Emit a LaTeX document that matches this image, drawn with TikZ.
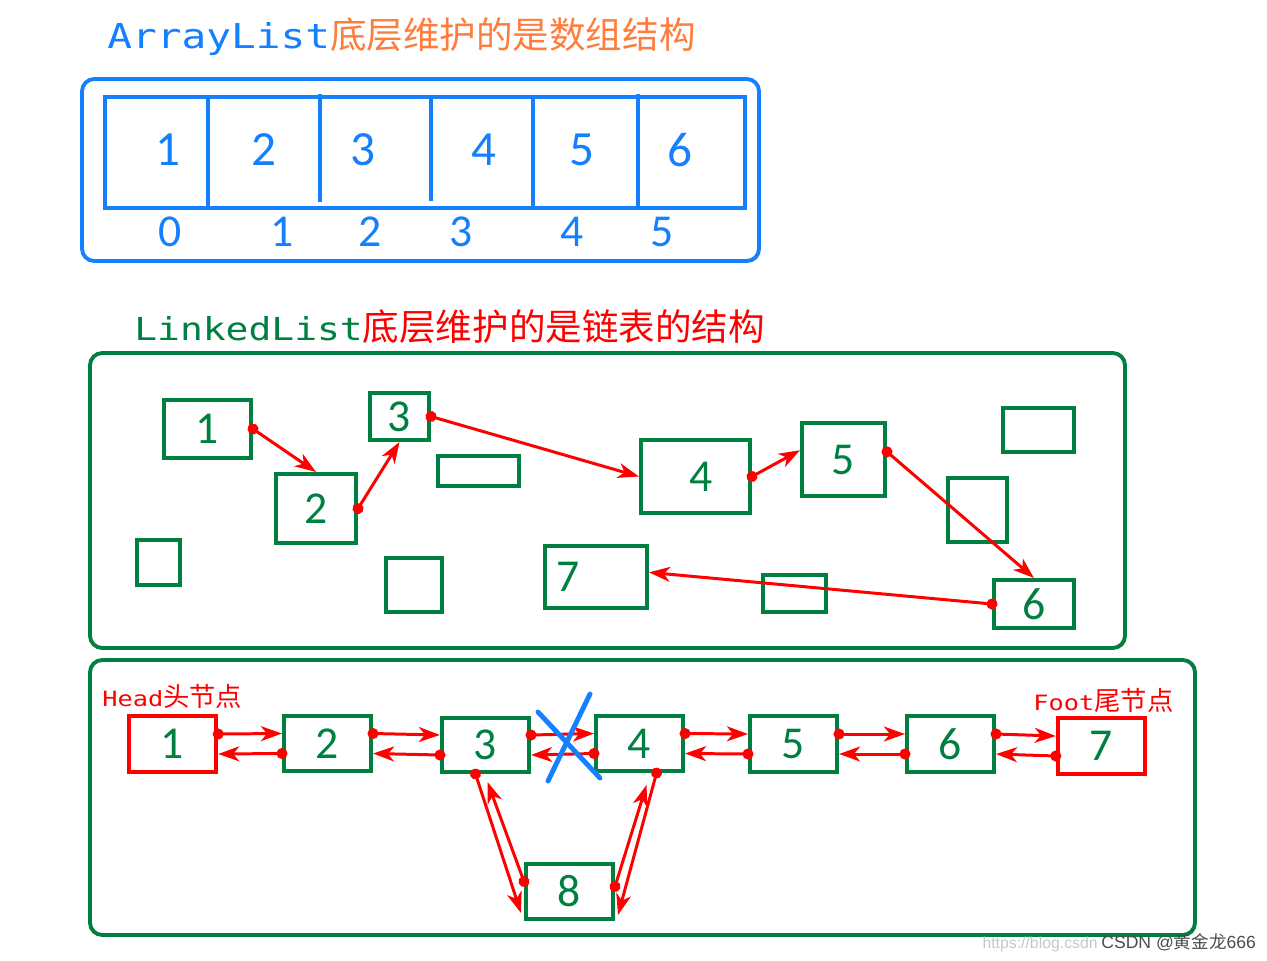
\documentclass[tikz,border=0pt]{standalone}
\usepackage{fontspec}
\setmainfont{Carlito}
\newfontfamily\codefont[FakeStretch=1.2]{DejaVu Sans Mono}
\newfontfamily\cjk{Noto Sans CJK SC}
\newfontfamily\wmfont{Liberation Sans}
\usetikzlibrary{arrows.meta,fit,calc,shadows}
\definecolor{arrblue}{RGB}{20,128,255}
\definecolor{arrorange}{RGB}{255,125,60}
\definecolor{lgreen}{RGB}{0,128,64}
\definecolor{lred}{RGB}{255,0,0}

\begin{document}
\begin{tikzpicture}[x=0.02cm,y=-0.02cm,
		panel/.style={line width=2.2pt, rounded corners=7pt, fill=white, drop shadow={shadow xshift=1pt, shadow yshift=-1pt, opacity=.25}},
		cell/.style={draw=arrblue, line width=2.2pt},
		gbox/.style={draw=lgreen, line width=2.3pt, fill=white, inner sep=0pt, drop shadow={shadow xshift=1pt, shadow yshift=-1pt, opacity=.25}},
		rbox/.style={gbox, draw=lred, line width=2.5pt},
		num/.style={text=lgreen, font=\fontsize{26}{26}\selectfont},
		bnum/.style={text=arrblue, font=\fontsize{28}{28}\selectfont},
		inum/.style={text=arrblue, font=\fontsize{26}{26}\selectfont},
		link/.style={draw=lred, line width=1.7pt, arrows={Circle[length=6.2pt]-Stealth[length=12pt,width=8.5pt,inset=3.5pt]}, shorten <=-3.1pt},
		xmark/.style={draw=arrblue, line width=2.8pt, line cap=round}]
		
		\path[use as bounding box, fill=white] (0,0) rectangle (1267,960);
		
		\node[anchor=base west, inner sep=0pt] (arrtitle) at (107,48) {\fontsize{19.5}{20}\codefont\textcolor{arrblue}{ArrayList}\fontsize{20.8}{21}\cjk\textcolor{arrorange}{底层维护的是数组结构}};
		
		\draw[panel, draw=arrblue] (82,79) rectangle (759,261);
		\draw[cell] (105,97) rectangle (745,208);
		\draw[cell] (208,97) -- (208,208);
		\draw[cell] (320,94) -- (320,202);
		\draw[cell] (431,97) -- (431,201);
		\draw[cell] (533,97) -- (533,208);
		\draw[cell] (638,94) -- (638,208);
		
		\node[bnum] (c1) at (168,150) {1};
		\node[bnum] (c2) at (264,150) {2};
		\node[bnum] (c3) at (363,150) {3};
		\node[bnum] (c4) at (484,150) {4};
		\node[bnum] (c5) at (582,150) {5};
		\node[bnum] (c6) at (680,150) {6};
		
		\node[inum] (i0) at (170,232) {0};
		\node[inum] (i1) at (282,232) {1};
		\node[inum] (i2) at (370,232) {2};
		\node[inum] (i3) at (461,232) {3};
		\node[inum] (i4) at (572,232) {4};
		\node[inum] (i5) at (662,232) {5};
		
		
		\node[anchor=base west, inner sep=0pt] (lnktitle) at (134,340) {\fontsize{18}{19}\codefont\textcolor{lgreen}{LinkedList}\fontsize{20.8}{21}\cjk\textcolor{lred}{底层维护的是链表的结构}};
		
		\draw[panel, draw=lgreen] (90,353) rectangle (1125,648);
		
		\node[gbox, fit={(164,400) (251,458)}, label={[num]center:1}] (m1) {};
		\node[gbox, fit={(276,474) (356,543)}, label={[num]center:2}] (m2) {};
		\node[gbox, fit={(370,393) (429,440)}, label={[num]center:3}] (m3) {};
		\node[gbox, fit={(641,440) (750,513)}, label={[num,xshift=3pt]center:4}] (m4) {};
		\node[gbox, fit={(802,423) (885,496)}, label={[num]center:5}] (m5) {};
		\node[gbox, fit={(994,580) (1074,628)}, label={[num]center:6}] (m6) {};
		\node[gbox, fit={(545,546) (647,608)}, label={[num,anchor=west,xshift=4pt]west:7}] (m7) {};
		
		\node[gbox, fit={(438,456) (519,486)}] (e1) {};
		\node[gbox, fit={(1003,408) (1074,452)}] (e2) {};
		\node[gbox, fit={(948,478) (1007,542)}] (e3) {};
		\node[gbox, fit={(763,575) (826,612)}] (e4) {};
		\node[gbox, fit={(137,540) (180,585)}] (e5) {};
		\node[gbox, fit={(386,558) (442,612)}] (e6) {};
		
		\draw[link] (m1.east) -- (m2.north);
		\draw[link] (m2.east) -- (m3.south);
		\draw[link] (m3.east) -- (m4.west);
		\draw[link] (m4.east) -- (m5.168);
		\draw[link] (m5.10) -- (m6.north);
		\draw[link] (m6.west) -- (m7.5);
		
		
		\draw[panel, draw=lgreen] (90,660) rectangle (1195,935);
		
		\node[anchor=base west, inner sep=0pt, text=lred] (head) at (102,706) {\fontsize{12}{12}\codefont Head\fontsize{15}{15}\cjk 头节点};
		\node[anchor=base west, inner sep=0pt, text=lred] (foot) at (1033,710) {\fontsize{12}{12}\codefont Foot\fontsize{15}{15}\cjk 尾节点};
		
		\node[rbox, fit={(129,716) (216,772)}, label={[num]center:1}] (b1) {};
		\node[gbox, fit={(284,716) (371,771)}, label={[num]center:2}] (b2) {};
		\node[gbox, fit={(442,718) (529,772)}, label={[num]center:3}] (b3) {};
		\node[gbox, fit={(596,716) (683,771)}, label={[num]center:4}] (b4) {};
		\node[gbox, fit={(750,716) (837,772)}, label={[num]center:5}] (b5) {};
		\node[gbox, fit={(907,716) (994,772)}, label={[num]center:6}] (b6) {};
		\node[rbox, fit={(1058,718) (1145,774)}, label={[num]center:7}] (b7) {};
		\node[gbox, fit={(526,864) (613,919)}, label={[num]center:8}] (b8) {};
		
		\draw[link] ($(b1.east)+(0,-10)$) -- ($(b2.west)+(0,-10)$);
		\draw[link] ($(b2.west)+(0,10)$) -- ($(b1.east)+(0,10)$);
		\draw[link] ($(b2.east)+(0,-10)$) -- ($(b3.west)+(0,-10)$);
		\draw[link] ($(b3.west)+(0,10)$) -- ($(b2.east)+(0,10)$);
		\draw[link] ($(b3.east)+(0,-10)$) -- ($(b4.west)+(0,-10)$);
		\draw[link] ($(b4.west)+(0,10)$) -- ($(b3.east)+(0,10)$);
		\draw[link] ($(b4.east)+(0,-10)$) -- ($(b5.west)+(0,-10)$);
		\draw[link] ($(b5.west)+(0,10)$) -- ($(b4.east)+(0,10)$);
		\draw[link] ($(b5.east)+(0,-10)$) -- ($(b6.west)+(0,-10)$);
		\draw[link] ($(b6.west)+(0,10)$) -- ($(b5.east)+(0,10)$);
		\draw[link] ($(b6.east)+(0,-10)$) -- ($(b7.west)+(0,-10)$);
		\draw[link] ($(b7.west)+(0,10)$) -- ($(b6.east)+(0,10)$);
		
		\draw[link] ($(b3.south)+(-10,0)$) -- ($(b8.south west)+(-3,-8)$);
		\draw[link] ($(b8.west)+(0,-10)$) -- ($(b3.south)+(2,8)$);
		\draw[link] ($(b4.south)+(17,0)$) -- ($(b8.south east)+(3,-6)$);
		\draw[link] ($(b8.east)+(0,-5)$) -- ($(b4.south)+(7,12)$);
		
		\draw[xmark] (538,712) -- (600,778);
		\draw[xmark] (590,694) -- (548,781);
		
		\node[anchor=base east, inner sep=0pt, text=black!22, font=\wmfont\fontsize{9}{9}\selectfont] (wmurl) at (1098,948) {https://blog.csdn};
		\node[anchor=base west, inner sep=0pt, text=black!70, font=\wmfont\fontsize{10}{10}\selectfont] (wmname) at (1101,948) {CSDN @\cjk 黄金龙\wmfont 666};
		
	\end{tikzpicture}
\end{document}
